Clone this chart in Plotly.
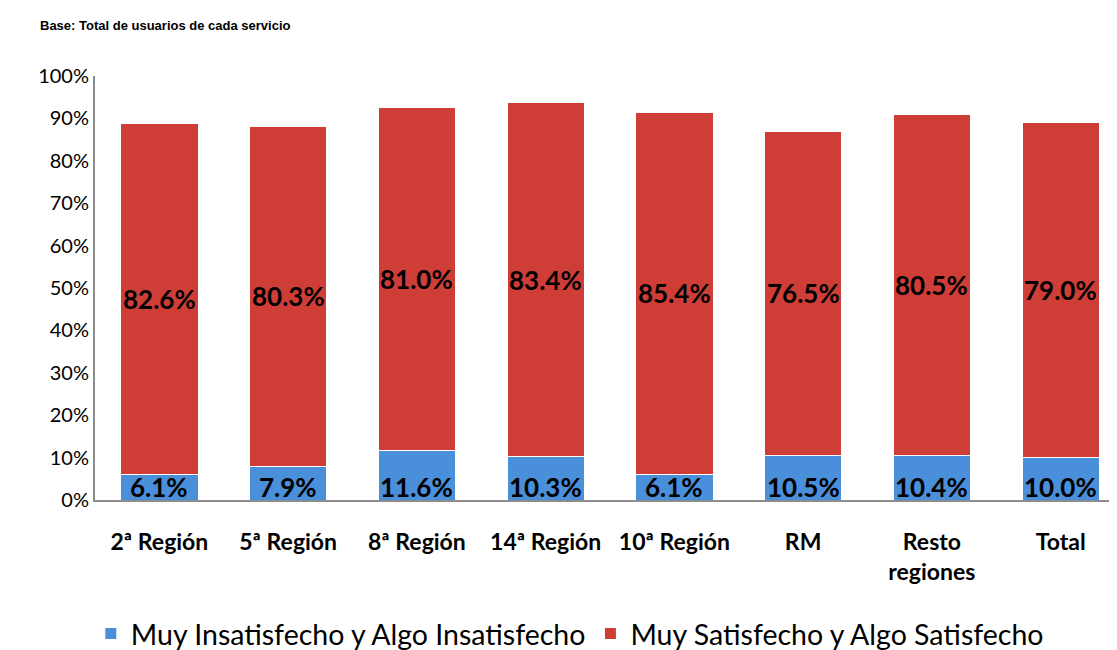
import plotly.graph_objects as go

categories = ["2ª Región", "5ª Región", "8ª Región", "14ª Región", "10ª Región", "RM", "Resto<br>regiones", "Total"]
insatisfecho = [6.1, 7.9, 11.6, 10.3, 6.1, 10.5, 10.4, 10.0]
satisfecho = [82.6, 80.3, 81.0, 83.4, 85.4, 76.5, 80.5, 79.0]
series_names = ["Muy Insatisfecho y Algo Insatisfecho", "Muy Satisfecho y Algo Satisfecho"]
y_ticks = list(range(0, 101, 10))
y_ticklabels = [f"{v}%" for v in y_ticks]

BLUE = "#4a8fda"
RED = "#cf3d37"
FONT = "Lato"

W, H = 1117, 650
L, R, T, B = 87, 0, 68, 158

fig = go.Figure()
fig.add_trace(go.Bar(x=categories, y=insatisfecho, name=series_names[0],
                     marker=dict(color=BLUE, line=dict(color="#ffffff", width=1)), width=0.6))
fig.add_trace(go.Bar(x=categories, y=satisfecho, name=series_names[1],
                     marker=dict(color=RED, line=dict(color="#ffffff", width=1)), width=0.6))

annotations = []
for c, b, r in zip(categories, insatisfecho, satisfecho):
    annotations.append(dict(x=c, y=0, xref="x", yref="y", text=f"<b>{b:.1f}%</b>",
                            showarrow=False, yanchor="bottom", yshift=-5,
                            font=dict(family=FONT, size=26, color="#000000")))
    annotations.append(dict(x=c, y=b + r / 2, xref="x", yref="y", text=f"<b>{r:.1f}%</b>",
                            showarrow=False, yanchor="middle",
                            font=dict(family=FONT, size=26, color="#000000")))

pw, ph = W - L - R, H - T - B
annotations.append(dict(x=(30 - L) / pw, y=(H - 18 - B) / ph, xref="paper", yref="paper",
                        text="<b>Base: Total de usuarios de cada servicio</b>",
                        showarrow=False, xanchor="left", yanchor="middle",
                        font=dict(family="Liberation Sans", size=13, color="#000000")))

fig.update_layout(
    width=W, height=H,
    barmode="stack",
    plot_bgcolor="#ffffff", paper_bgcolor="#ffffff",
    margin=dict(l=L, r=R, t=T, b=B),
    font=dict(family=FONT, color="#000000"),
    showlegend=True,
    legend=dict(orientation="h", traceorder="normal", xref="container", yref="container",
                x=0.503, y=24 / H, xanchor="center", yanchor="middle",
                font=dict(family=FONT, size=28.5, color="#000000"),
                itemwidth=30, tracegroupgap=0),
    annotations=annotations,
)

fig.update_xaxes(range=[-0.5, 7.5], showline=True, linecolor="#8c8c8c", linewidth=2,
                 tickfont=dict(family=FONT, size=23, color="#000000", weight="bold"),
                 ticks="", ticklabelstandoff=20, showgrid=False, zeroline=False)
fig.update_yaxes(range=[0, 100], tickvals=y_ticks, ticktext=y_ticklabels, showline=True,
                 linecolor="#8c8c8c", linewidth=2, ticks="", showgrid=False, zeroline=False,
                 tickfont=dict(family=FONT, size=20, color="#000000"))

fig.write_html("out.html")
